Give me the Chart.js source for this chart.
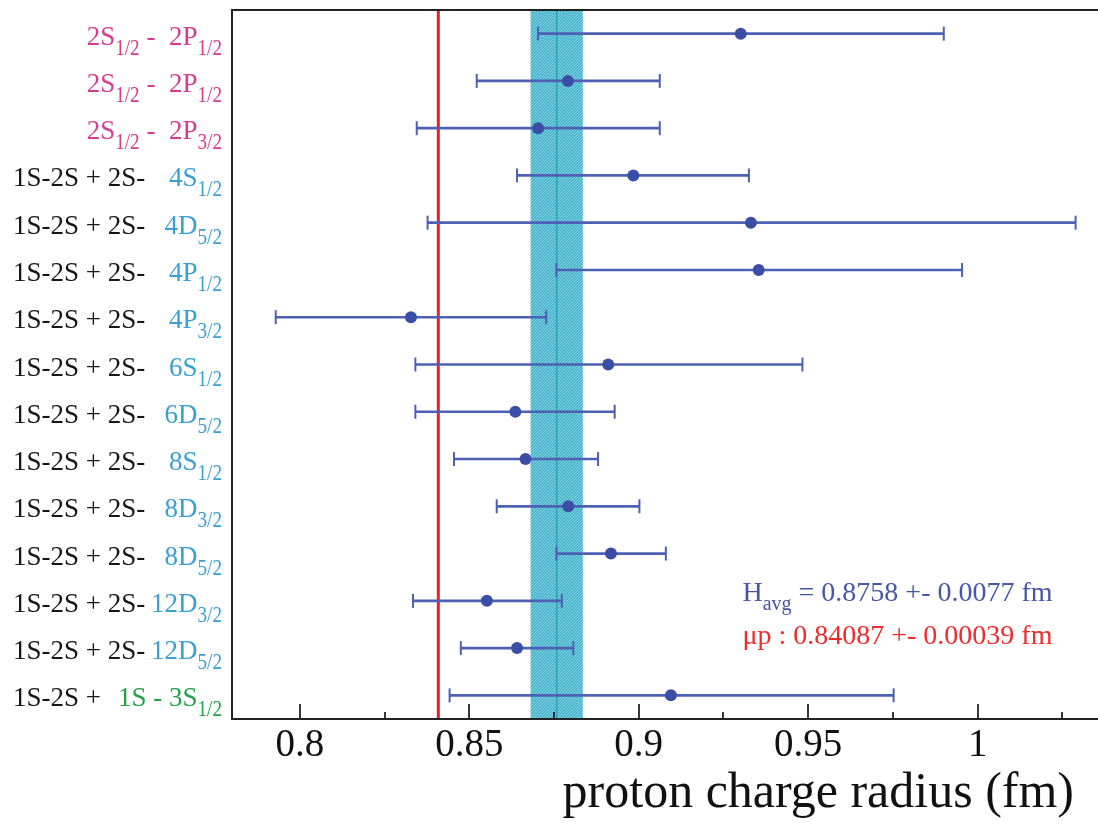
<!DOCTYPE html>
<html>
<head>
<meta charset="utf-8">
<script src="https://cdn.jsdelivr.net/npm/chart.js@4/dist/chart.umd.min.js"></script>
<style>
    body { margin: 0; background: #fff; }
    #wrap { width: 1098px; height: 825px; position: relative; }
</style>
</head>
<body>
<div id="wrap"><canvas id="radiusChart"></canvas></div>
<script>
// row labels: black head (left) + coloured transition (right), "_{..}" = subscript
const rowHead = ['', '', '',
    '1S-2S + 2S-', '1S-2S + 2S-', '1S-2S + 2S-', '1S-2S + 2S-', '1S-2S + 2S-', '1S-2S + 2S-',
    '1S-2S + 2S-', '1S-2S + 2S-', '1S-2S + 2S-', '1S-2S + 2S-', '1S-2S + 2S-', '1S-2S + '];
const rowTail = ['2S_{1/2} -  2P_{1/2}', '2S_{1/2} -  2P_{1/2}', '2S_{1/2} -  2P_{3/2}',
    '4S_{1/2}', '4D_{5/2}', '4P_{1/2}', '4P_{3/2}', '6S_{1/2}', '6D_{5/2}',
    '8S_{1/2}', '8D_{3/2}', '8D_{5/2}', '12D_{3/2}', '12D_{5/2}', '1S - 3S_{1/2}'];
const rowGroup = ['lamb', 'lamb', 'lamb',
    'twoS', 'twoS', 'twoS', 'twoS', 'twoS', 'twoS', 'twoS', 'twoS', 'twoS', 'twoS', 'twoS', 'oneS'];

// proton radius (fm) per row, with lower / upper end of the error bar
const radius = [0.9301, 0.8791, 0.8703, 0.8984, 0.9331, 0.9354, 0.8328, 0.8910,
    0.8636, 0.8666, 0.8792, 0.8918, 0.8552, 0.8641, 0.9095];
const radiusLow = [0.8703, 0.8522, 0.8345, 0.8641, 0.8377, 0.8757, 0.7929, 0.8341,
    0.8341, 0.8455, 0.8581, 0.8757, 0.8334, 0.8475, 0.8442];
const radiusHigh = [0.9900, 0.9062, 0.9062, 0.9325, 1.0289, 0.9954, 0.8727, 0.9483,
    0.8929, 0.8880, 0.9002, 0.9080, 0.8773, 0.8807, 0.9752];

const hAvg = 0.8758, hAvgErr = 0.0077;
const muP = 0.84087, muPErr = 0.00039;

const majorTicks = [0.8, 0.85, 0.9, 0.95, 1.0];
const tickLabels = ['0.8', '0.85', '0.9', '0.95', '1'];
const minorTicks = [0.825, 0.875, 0.925, 0.975, 1.025];
const axisTitle = 'proton charge radius (fm)';

const SERIF = '"Liberation Serif", "Times New Roman", serif';
const groupColor = { lamb: '#d83b8e', twoS: '#3a9fd3', oneS: '#23a04a' };
const BLUE_PT = '#3a4ea6';
const BLUE_BAR = '#4d60b3';

document.addEventListener('DOMContentLoaded', () => {
    const rowNames = rowHead.map((h, i) => h + rowTail[i].replace(/_\{([^}]*)\}/g, '$1'));

    // dotted teal fill for the H average band
    const pat = document.createElement('canvas');
    pat.width = 3; pat.height = 3;
    const pctx = pat.getContext('2d');
    pctx.fillStyle = '#48b5cd';
    pctx.fillRect(0, 0, 3, 3);
    pctx.fillStyle = '#8dd4e3';
    pctx.fillRect(0, 0, 1, 1);
    pctx.fillRect(2, 1, 1, 1);
    pctx.fillRect(1, 2, 1, 1);

    function splitRich(text) {
        return text.split(/(_\{[^}]*\})/).filter(s => s.length).map(s => {
            if (s.startsWith('_{')) return { t: s.slice(2, -1), sub: true };
            return { t: s, sub: false };
        });
    }

    // draw text with subscripts; st = {main, sub, subScale, subDrop}
    function drawRich(ctx, text, x, base, align, st) {
        const parts = splitRich(text);
        const widths = parts.map(p => {
            ctx.font = p.sub ? st.sub : st.main;
            return ctx.measureText(p.t).width * (p.sub ? st.subScale : 1);
        });
        const total = widths.reduce((a, b) => a + b, 0);
        let cx = align === 'right' ? x - total : x;
        ctx.textAlign = 'left';
        ctx.textBaseline = 'alphabetic';
        parts.forEach((p, i) => {
            if (p.sub) {
                ctx.font = st.sub;
                ctx.save();
                ctx.translate(cx, base + st.subDrop);
                ctx.scale(st.subScale, 1);
                ctx.fillText(p.t, 0, 0);
                ctx.restore();
            } else {
                ctx.font = st.main;
                ctx.fillText(p.t, cx, base);
            }
            cx += widths[i];
        });
    }

    const overlay = {
        id: 'overlay',
        beforeDatasetsDraw(chart) {
            const { ctx, chartArea: a, scales: { x } } = chart;
            ctx.save();
            ctx.beginPath();
            ctx.rect(a.left, a.top, a.right - a.left, a.bottom - a.top);
            ctx.clip();
            // H average band
            const b0 = x.getPixelForValue(hAvg - hAvgErr);
            const b1 = x.getPixelForValue(hAvg + hAvgErr);
            ctx.fillStyle = ctx.createPattern(pat, 'repeat');
            ctx.fillRect(b0, a.top, b1 - b0, a.bottom - a.top);
            ctx.strokeStyle = '#2aa0bb';
            ctx.lineWidth = 1.5;
            const bc = x.getPixelForValue(hAvg);
            ctx.beginPath();
            ctx.moveTo(bc, a.top);
            ctx.lineTo(bc, a.bottom);
            ctx.stroke();
            // muonic hydrogen value
            const mx = x.getPixelForValue(muP);
            ctx.strokeStyle = '#ee1d23';
            ctx.lineWidth = 3;
            ctx.beginPath();
            ctx.moveTo(mx, a.top);
            ctx.lineTo(mx, a.bottom);
            ctx.stroke();
            ctx.restore();
        },
        afterDraw(chart) {
            const { ctx, chartArea: a, scales: { x, y } } = chart;
            ctx.save();
            // frame
            ctx.strokeStyle = '#222';
            ctx.lineWidth = 2;
            ctx.beginPath();
            ctx.moveTo(a.right + 2, a.top);
            ctx.lineTo(a.left, a.top);
            ctx.lineTo(a.left, a.bottom);
            ctx.lineTo(a.right + 2, a.bottom);
            ctx.stroke();
            // inward ticks
            ctx.lineWidth = 1.8;
            majorTicks.forEach(v => {
                const px = Math.round(x.getPixelForValue(v));
                ctx.beginPath();
                ctx.moveTo(px, a.bottom);
                ctx.lineTo(px, a.bottom - 15);
                ctx.stroke();
            });
            minorTicks.forEach(v => {
                const px = Math.round(x.getPixelForValue(v));
                ctx.beginPath();
                ctx.moveTo(px, a.bottom);
                ctx.lineTo(px, a.bottom - 7);
                ctx.stroke();
            });

            // row labels
            const labelStyle = { main: '27px ' + SERIF, sub: '24px ' + SERIF, subScale: 0.8, subDrop: 10 };
            rowTail.forEach((tail, i) => {
                const base = y.getPixelForValue(i) + 11;
                if (rowHead[i]) {
                    ctx.fillStyle = '#161616';
                    drawRich(ctx, rowHead[i], 13, base, 'left', labelStyle);
                }
                ctx.fillStyle = groupColor[rowGroup[i]];
                drawRich(ctx, tail, a.left - 10, base, 'right', labelStyle);
            });

            // averages
            const noteStyle = { main: '28px ' + SERIF, sub: '20px ' + SERIF, subScale: 1, subDrop: 9 };
            const nx = x.getPixelForValue(0.9306);
            ctx.fillStyle = '#4757a8';
            drawRich(ctx, `H_{avg} = ${hAvg} +- ${hAvgErr} fm`, nx, y.getPixelForValue(12), 'left', noteStyle);
            ctx.fillStyle = '#ef2b2b';
            drawRich(ctx, `\u03bcp : ${muP} +- ${muPErr} fm`, nx, y.getPixelForValue(12) + 43, 'left', noteStyle);

            // axis title
            ctx.fillStyle = '#111';
            ctx.font = '50px ' + SERIF;
            ctx.textAlign = 'right';
            ctx.textBaseline = 'alphabetic';
            ctx.fillText(axisTitle, 1074, 807);
            ctx.restore();
        }
    };

    const ctx = document.getElementById('radiusChart').getContext('2d');
    new Chart(ctx, {
        type: 'bar',
        data: {
            labels: rowNames,
            datasets: [{
                type: 'line',
                label: 'radius',
                data: radius,
                showLine: false,
                pointRadius: 6,
                pointBackgroundColor: BLUE_PT,
                pointBorderWidth: 0
            }, {
                type: 'line',
                label: 'low cap',
                data: radiusLow,
                showLine: false,
                pointStyle: 'line',
                rotation: 90,
                pointRadius: 7,
                pointBorderColor: BLUE_BAR,
                pointBorderWidth: 2
            }, {
                type: 'line',
                label: 'high cap',
                data: radiusHigh,
                showLine: false,
                pointStyle: 'line',
                rotation: 90,
                pointRadius: 7,
                pointBorderColor: BLUE_BAR,
                pointBorderWidth: 2
            }, {
                type: 'bar',
                label: 'error',
                data: radiusLow.map((lo, i) => [lo, radiusHigh[i]]),
                backgroundColor: BLUE_BAR,
                borderWidth: 0,
                barThickness: 2
            }]
        },
        options: {
            indexAxis: 'y',
            responsive: true,
            maintainAspectRatio: false,
            animation: false,
            layout: { autoPadding: false, padding: { top: 10, right: 0, left: 0, bottom: 0 } },
            plugins: {
                legend: { display: false },
                tooltip: { enabled: false }
            },
            scales: {
                x: {
                    type: 'linear',
                    min: 0.78,
                    max: 1.0355,
                    grid: { display: false, drawTicks: false },
                    border: { display: false },
                    afterBuildTicks: scale => {
                        scale.ticks = majorTicks.map(v => ({ value: v }));
                    },
                    afterFit: scale => { scale.height = 106; },
                    ticks: {
                        padding: 3,
                        color: '#111',
                        font: { family: SERIF, size: 39 },
                        maxRotation: 0,
                        autoSkip: false,
                        callback: (value, index) => tickLabels[index]
                    }
                },
                y: {
                    type: 'category',
                    offset: true,
                    grid: { display: false, drawTicks: false },
                    border: { display: false },
                    ticks: { display: false },
                    afterFit: scale => { scale.width = 232; }
                }
            }
        },
        plugins: [overlay]
    });
});
</script>
</body>
</html>
